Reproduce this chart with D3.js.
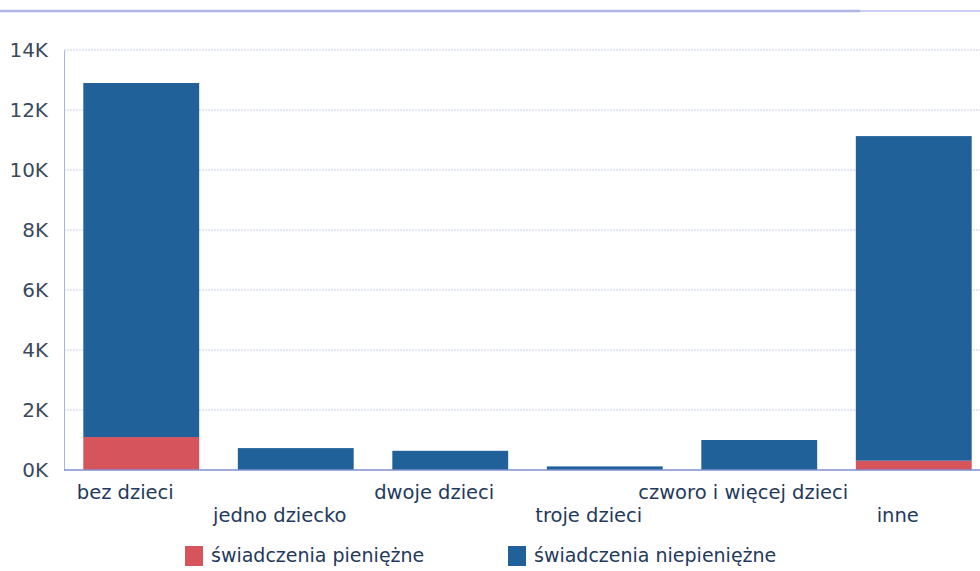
<!DOCTYPE html>
<html><head><meta charset="utf-8">
<script src="https://cdn.jsdelivr.net/npm/d3@7"></script>
<style>body{margin:0;background:#fff}svg{display:block}</style>
</head><body>
<svg id="c" width="980" height="571"></svg>
<script>
const categories = ["bez dzieci","jedno dziecko","dwoje dzieci","troje dzieci","czworo i więcej dzieci","inne"];
const pieniezne = [1100, 0, 0, 0, 0, 310];
const niepieniezne = [11800, 730, 640, 120, 1000, 10820];
const seriesNames = ["świadczenia pieniężne","świadczenia niepieniężne"];
const yTicks = [0,2000,4000,6000,8000,10000,12000,14000];
const tickLabels = ["0K","2K","4K","6K","8K","10K","12K","14K"];
const colors = ["#d6545b","#21619a"];

const svg = d3.select("#c");
const font = "DejaVu Sans";
const x = d3.scaleBand().domain(categories).range([64, 991]).paddingInner(0.25).paddingOuter(0.125);
const y = d3.scaleLinear().domain([0,14000]).range([470,50]);

// top rule
svg.append("line").attr("x1",0).attr("x2",860).attr("y1",11).attr("y2",11)
  .attr("stroke","#949de0").attr("stroke-width",2.5).attr("opacity",0.75);
svg.append("line").attr("x1",860).attr("x2",980).attr("y1",11).attr("y2",11)
  .attr("stroke","#b4bbe8").attr("stroke-width",2).attr("opacity",0.7);

// grid
svg.append("g").selectAll("line").data(yTicks.slice(1)).join("line")
  .attr("x1",64).attr("x2",980).attr("y1",d=>y(d)).attr("y2",d=>y(d))
  .attr("stroke","#c9cff0").attr("stroke-dasharray","2,1");

// y axis
const ya = d3.axisLeft(y).tickValues(yTicks).tickFormat((d,i)=>tickLabels[i]).tickSize(0).tickPadding(16);
const yg = svg.append("g").attr("transform","translate(64,0)").call(ya);
yg.select(".domain").attr("stroke","#aab3e6");
yg.selectAll("text").attr("font-family",font).attr("font-size",20).attr("fill","#3b4a5c");

// bars
const data = categories.map((c,i)=>({c, p:pieniezne[i], n:niepieniezne[i]}));
const stack = d3.stack().keys(["p","n"])(data);
svg.append("g").selectAll("g").data(stack).join("g").attr("fill",(d,i)=>colors[i])
  .selectAll("rect").data(d=>d).join("rect")
  .attr("x",d=>x(d.data.c)).attr("width",x.bandwidth())
  .attr("y",d=>y(d[1])).attr("height",d=>Math.max(0,y(d[0])-y(d[1])));

// bottom axis line
svg.append("line").attr("x1",64).attr("x2",980).attr("y1",470).attr("y2",470)
  .attr("stroke","#7f8fd2").attr("stroke-width",1.5);

// x labels (staggered)
svg.append("g").selectAll("text").data(categories).join("text")
  .attr("x",d=>x(d)+x.bandwidth()/2-16)
  .attr("y",(d,i)=> i%2===0 ? 499 : 522)
  .attr("text-anchor","middle").attr("font-family",font).attr("font-size",19.5)
  .attr("fill","#1f3a5c").text(d=>d);

// legend
const lx = [185, 508];
const lg = svg.append("g").selectAll("g").data(seriesNames).join("g")
  .attr("transform",(d,i)=>`translate(${lx[i]},546)`);
lg.append("rect").attr("width",18).attr("height",20).attr("fill",(d,i)=>colors[i]);
lg.append("text").attr("x",26).attr("y",16).attr("font-family",font).attr("font-size",19)
  .attr("fill","#1f3a5c").text(d=>d);
</script>
</body></html>
